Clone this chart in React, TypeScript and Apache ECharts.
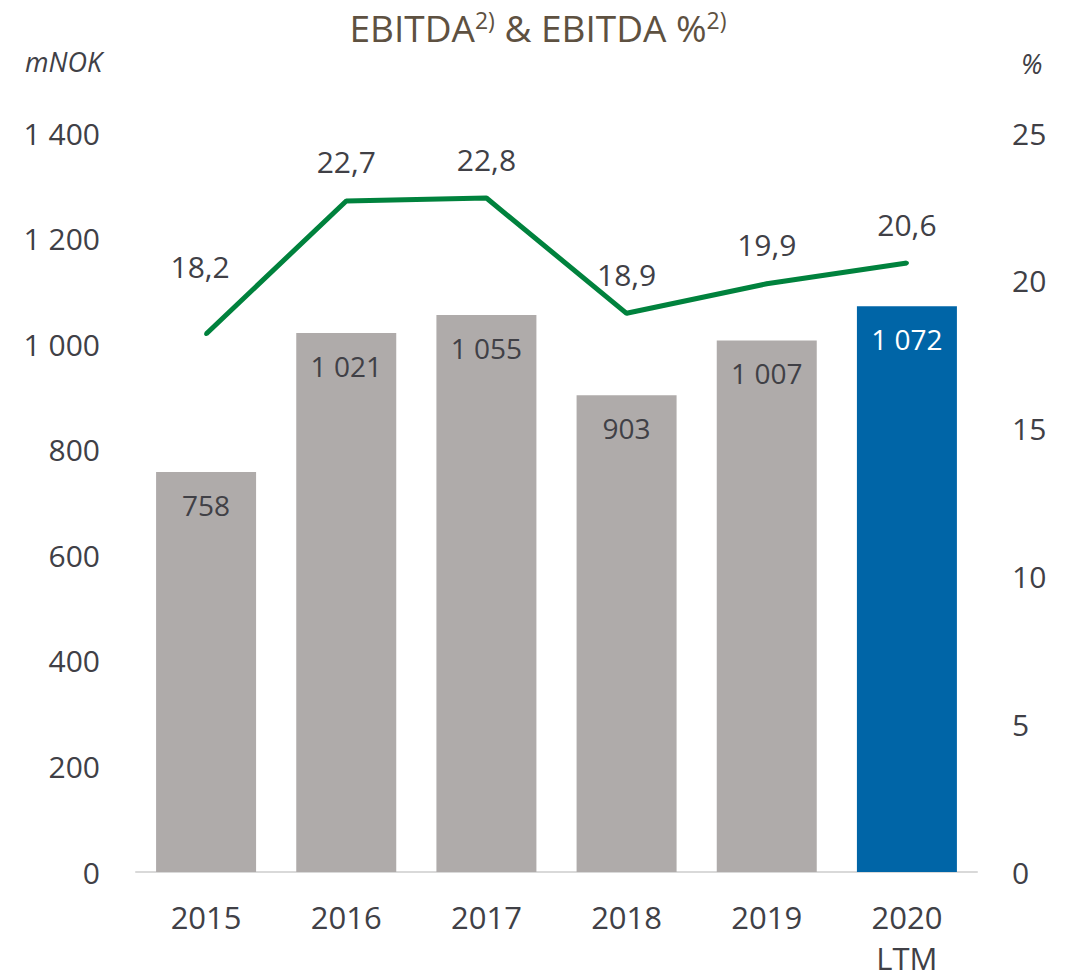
import React, { useEffect, useRef } from "react";
import * as echarts from "echarts";

const categories = ["2015", "2016", "2017", "2018", "2019", "2020\nLTM"];
const ebitda = [758, 1021, 1055, 903, 1007, 1072];
const ebitdaPct = [18.2, 22.7, 22.8, 18.9, 19.9, 20.6];
const leftTicks = { min: 0, max: 1400, interval: 200 };
const rightTicks = { min: 0, max: 25, interval: 5 };

const FONT = "'Open Sans', sans-serif";
const TXT = "#404046";
const TITLE = "#5E5141";
const GREEN = "#00823D";

const fmtSpace = (v: number) =>
  String(v).replace(/\B(?=(\d{3})+(?!\d))/g, " ");
const fmtComma = (v: number) => v.toFixed(1).replace(".", ",");

export default function App() {
  const ref = useRef<HTMLDivElement>(null);
  useEffect(() => {
    if (!ref.current) return;
    const chart = echarts.init(ref.current, undefined, { renderer: "svg" });
    chart.setOption({
      animation: false,
      textStyle: { fontFamily: FONT },
      title: {
        text: "{m|EBITDA}{s|2)}{m| & EBITDA %}{s|2)}",
        left: "center",
        top: 8,
        padding: 0,
        textStyle: {
          fontWeight: "normal",
          rich: {
            m: { fontFamily: FONT, fontSize: 37, fontWeight: "normal", color: TITLE, verticalAlign: "middle", lineHeight: 38 },
            s: { fontFamily: FONT, fontSize: 23, fontWeight: "normal", color: TITLE, verticalAlign: "top", lineHeight: 24 },
          },
        },
      },
      graphic: [
        {
          type: "text",
          left: 25,
          top: 48,
          style: { text: "mNOK", font: `italic 27px ${FONT}`, fill: TXT },
        },
        {
          type: "text",
          left: 1021,
          top: 50,
          style: { text: "%", font: `italic 27px ${FONT}`, fill: TXT },
        },
      ],
      grid: { left: 136, right: 99, top: 133, bottom: 105, outerBoundsMode: "none", containLabel: false },
      xAxis: {
        type: "category",
        data: categories,
        axisLine: { lineStyle: { color: "#D9D9D9", width: 2 } },
        axisTick: { show: false },
        axisLabel: {
          color: TXT,
          fontSize: 31,
          fontFamily: FONT,
          margin: 24,
          lineHeight: 41,
        },
      },
      yAxis: [
        {
          type: "value",
          ...leftTicks,
          axisLine: { show: false },
          axisTick: { show: false },
          splitLine: { show: false },
          axisLabel: {
            color: TXT,
            fontSize: 30,
            fontFamily: FONT,
            margin: 36,
            formatter: (v: number) => fmtSpace(v),
          },
        },
        {
          type: "value",
          ...rightTicks,
          position: "right",
          axisLine: { show: false },
          axisTick: { show: false },
          splitLine: { show: false },
          axisLabel: {
            color: TXT,
            fontSize: 30,
            fontFamily: FONT,
            margin: 35,
          },
        },
      ],
      series: [
        {
          type: "bar",
          yAxisIndex: 0,
          barWidth: 100,
          data: ebitda.map((v, i) => ({
            value: v,
            itemStyle: { color: i === ebitda.length - 1 ? "#0065A7" : "#AFABAA" },
            label: { color: i === ebitda.length - 1 ? "#FFFFFF" : TXT },
          })),
          label: {
            show: true,
            position: "insideTop",
            distance: 19,
            fontSize: 28,
            fontFamily: FONT,
            formatter: (p: any) => fmtSpace(p.value),
          },
        },
        {
          type: "line",
          yAxisIndex: 1,
          data: ebitdaPct.map((v, i) => ({
            value: v,
            label: i === 0 ? { distance: 51, padding: [0, 12, 0, 0] } : {},
          })),
          symbol: "circle",
          symbolSize: 4,
          showSymbol: true,
          lineStyle: { color: GREEN, width: 5 },
          itemStyle: { color: GREEN },
          label: {
            show: true,
            position: "top",
            distance: 22,
            color: TXT,
            fontSize: 30,
            fontFamily: FONT,
            formatter: (p: any) => fmtComma(p.value),
          },
          labelLayout: { hideOverlap: false },
        },
      ],
    });
    return () => chart.dispose();
  }, []);
  return (
    <div
      ref={ref}
      style={{ position: "absolute", left: 0, top: 0, width: 1076, height: 977 }}
    />
  );
}
